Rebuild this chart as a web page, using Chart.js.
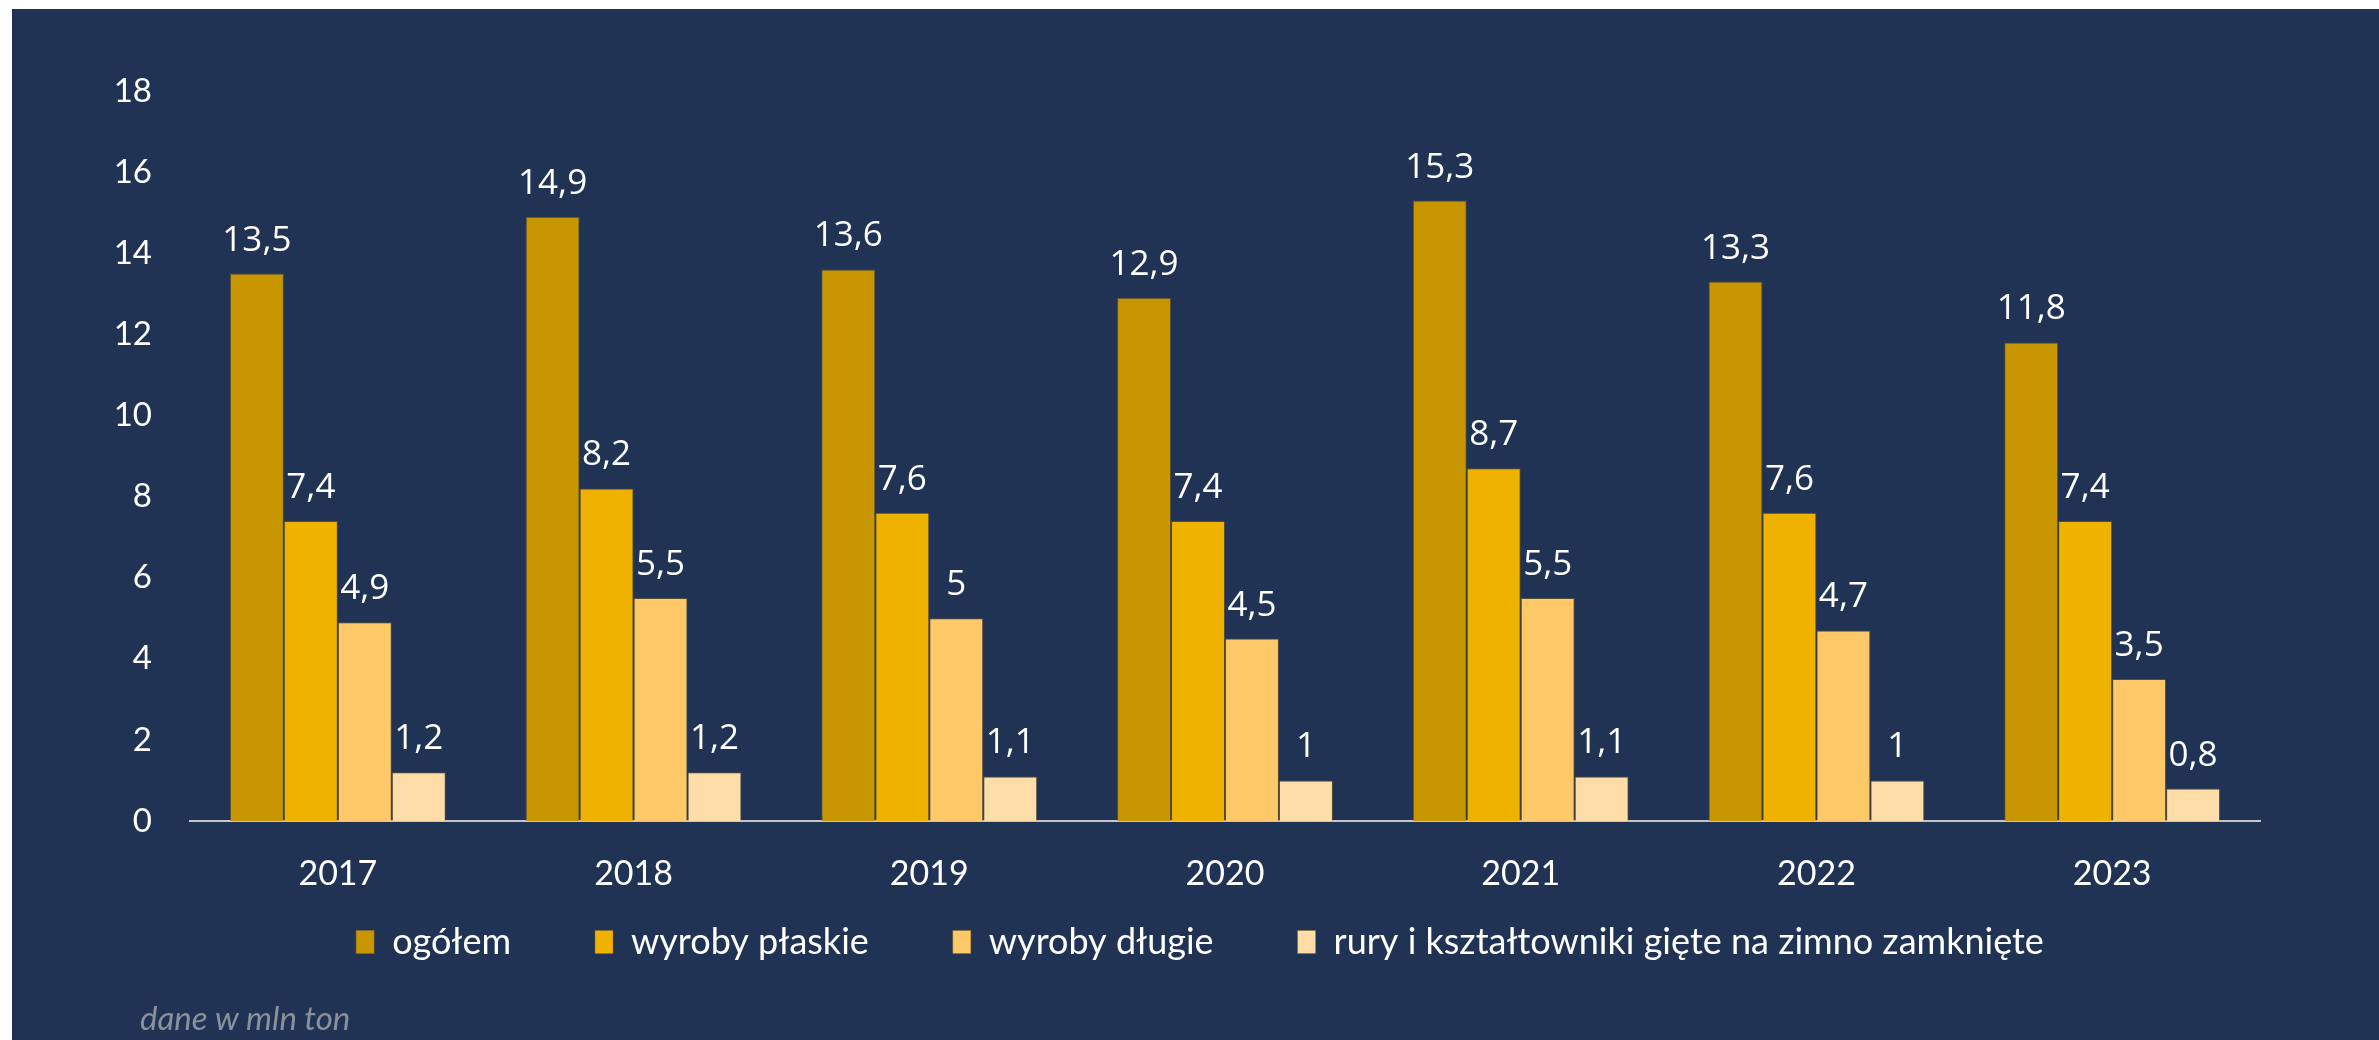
<!DOCTYPE html>
<html>
<head>
<meta charset="utf-8">
<script src="https://cdn.jsdelivr.net/npm/chart.js@4/dist/chart.umd.min.js"></script>
<style>
html, body { margin: 0; padding: 0; background: #fff; width: 2379px; height: 1040px; overflow: hidden; }
#panel { position: absolute; left: 12px; top: 9px; width: 2367px; height: 1031px; background: #203355; }
#note { position: absolute; left: 128px; top: 988px; font: italic 33px Lato; color: #8b909b; }
</style>
</head>
<body>
<div id="panel">
  <canvas id="chart" width="2367" height="1031"></canvas>
  <div id="note">dane w mln ton</div>
</div>
<script>
// dane w mln ton
const years = ['2017', '2018', '2019', '2020', '2021', '2022', '2023'];
const ogolem = [13.5, 14.9, 13.6, 12.9, 15.3, 13.3, 11.8];
const wyrobyPlaskie = [7.4, 8.2, 7.6, 7.4, 8.7, 7.6, 7.4];
const wyrobyDlugie = [4.9, 5.5, 5, 4.5, 5.5, 4.7, 3.5];
const rury = [1.2, 1.2, 1.1, 1, 1.1, 1, 0.8];
const seriesNames = ['ogółem', 'wyroby płaskie', 'wyroby długie', 'rury i kształtowniki gięte na zimno zamknięte'];
const seriesColors = ['#C89600', '#EFB200', '#FFC869', '#FFDDA9'];
const yMax = 18;
const yStep = 2;

const valueLabels = {
    id: 'valueLabels',
    afterDatasetsDraw(chart) {
        const ctx = chart.ctx;
        ctx.save();
        ctx.font = '35px "Open Sans"';
        ctx.fillStyle = '#ffffff';
        ctx.textAlign = 'center';
        ctx.textBaseline = 'alphabetic';
        chart.data.datasets.forEach((ds, i) => {
            chart.getDatasetMeta(i).data.forEach((bar, j) => {
                ctx.fillText(String(ds.data[j]).replace('.', ','), bar.x, bar.y - 23);
            });
        });
        ctx.restore();
    }
};

// legend padding is big for the wide gaps between items, pull the row back up
// and a bit to the right so it sits under the plot
const legendShift = {
    id: 'legendShift',
    afterLayout(chart) {
        const l = chart.legend;
        l.top -= 51;
        l.bottom -= 51;
        l.left += 64;
        l.right += 64;
    }
};

const seriesData = [ogolem, wyrobyPlaskie, wyrobyDlugie, rury];

new Chart(document.getElementById('chart').getContext('2d'), {
    type: 'bar',
    data: {
        labels: years,
        datasets: seriesData.map((d, i) => ({
            label: seriesNames[i],
            data: d,
            backgroundColor: seriesColors[i],
            borderColor: 'rgba(150,110,20,0.45)',
            borderWidth: 1,
            categoryPercentage: 0.73,
            barPercentage: 1.0
        }))
    },
    options: {
        responsive: false,
        animation: false,
        devicePixelRatio: 1,
        layout: { padding: { left: 0, right: 119, top: 82, bottom: 19 } },
        plugins: {
            tooltip: { enabled: false },
            legend: {
                position: 'bottom',
                labels: {
                    color: '#ffffff',
                    font: { family: 'Lato', size: 36 },
                    boxWidth: 18,
                    boxHeight: 23,
                    padding: 84
                }
            }
        },
        scales: {
            x: {
                grid: { display: false, drawTicks: false },
                border: { display: true, color: '#c3c6cc', width: 2 },
                ticks: { color: '#ffffff', font: { family: 'Lato', size: 34 }, padding: 33 },
                afterFit: (s) => { s.height = 70; }
            },
            y: {
                min: 0,
                max: yMax,
                grid: { display: false, drawTicks: false },
                border: { display: false },
                ticks: { stepSize: yStep, color: '#ffffff', font: { family: 'Lato', size: 33 }, padding: 38 },
                afterFit: (s) => { s.width = 178; }
            }
        }
    },
    plugins: [valueLabels, legendShift]
});
</script>
</body>
</html>
